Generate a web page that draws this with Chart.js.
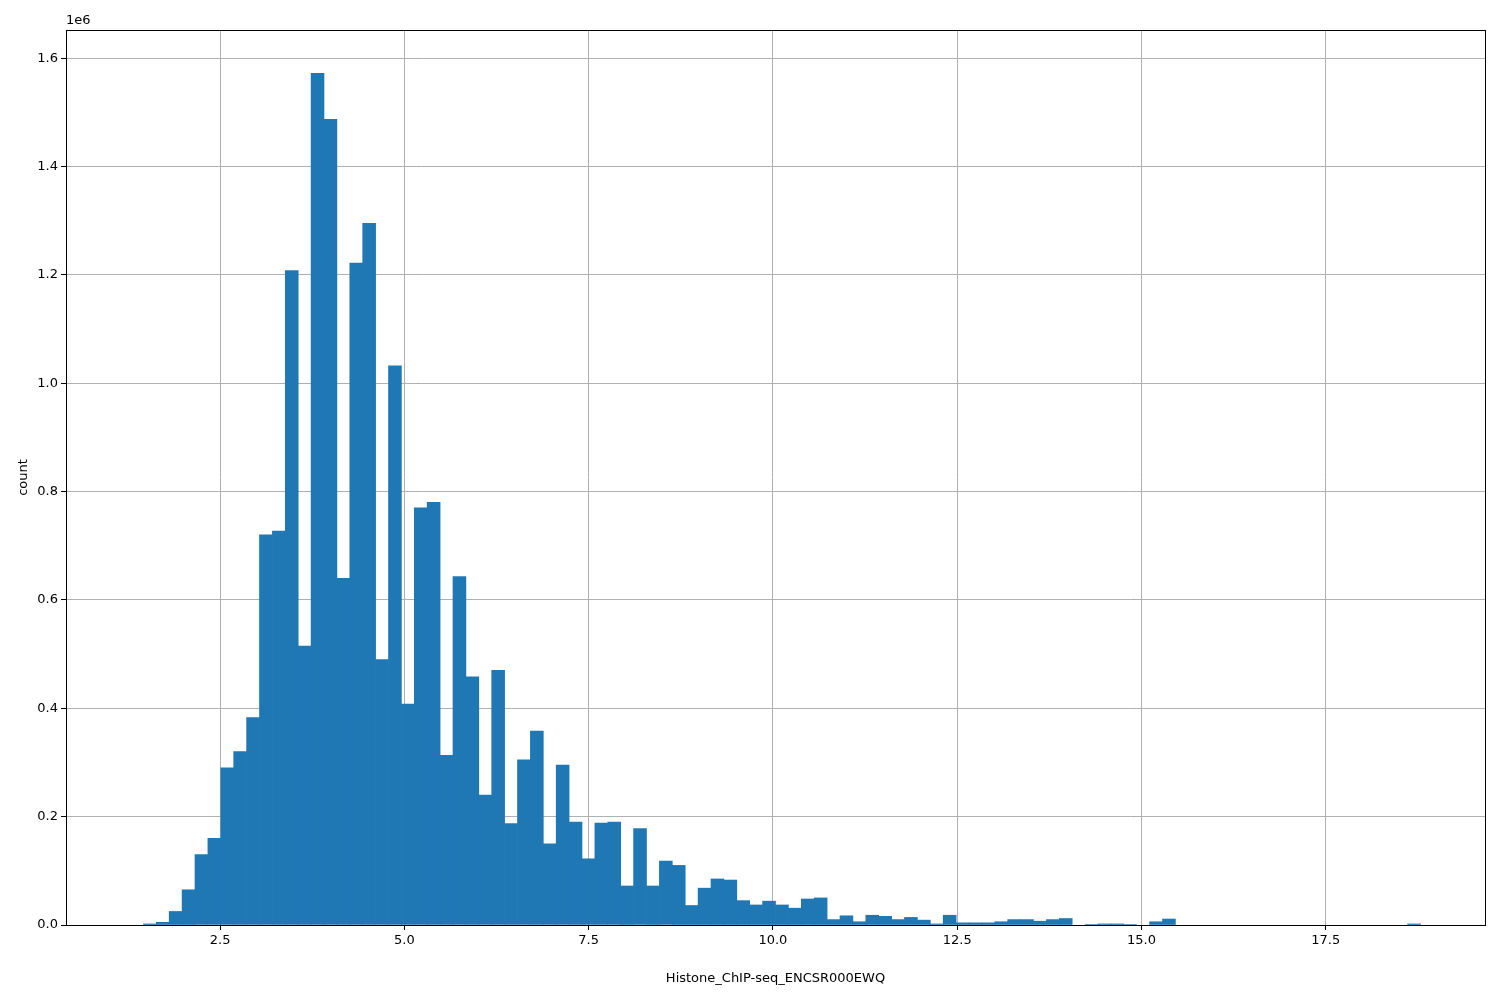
<!DOCTYPE html>
<html>
<head>
<meta charset="utf-8">
<script src="https://cdn.jsdelivr.net/npm/chart.js@4.4.0/dist/chart.umd.min.js"></script>
<style>
  html, body { margin: 0; padding: 0; background: #fff; }
  #wrap { width: 1500px; height: 1000px; }
</style>
</head>
<body>
<div id="wrap"><canvas id="hist"></canvas></div>
<script>
// --- DATA ---
const binStart = 1.285;
const binWidth = 0.175;
const counts = [
    0, 2000, 5000, 25000, 65000, 130000, 160000, 290000, 320000, 383000,
    720000, 727000, 1208000, 515000, 1572000, 1487000, 640000, 1222000, 1295000, 490000,
    1032000, 408000, 770000, 780000, 313000, 643000, 458000, 240000, 470000, 187000,
    305000, 358000, 150000, 295000, 190000, 122000, 188000, 190000, 72000, 178000,
    72000, 118000, 110000, 36000, 68000, 85000, 83000, 45000, 37000, 44000,
    37000, 31000, 48000, 50000, 10000, 17000, 6000, 18000, 16000, 10000,
    14000, 9000, 2000, 18000, 4000, 4000, 4000, 6000, 10000, 10000,
    7000, 10000, 12000, 0, 1000, 2000, 2000, 1000, 0, 6000,
    11000, 0, 0, 0, 0, 0, 0, 0, 0, 0,
    0, 0, 0, 0, 0, 0, 0, 0, 0, 2000
];
const xTicks = [2.5, 5.0, 7.5, 10.0, 12.5, 15.0, 17.5];
const yTicks = [0, 0.2, 0.4, 0.6, 0.8, 1.0, 1.2, 1.4, 1.6];
const xLabel = 'Histone_ChIP-seq_ENCSR000EWQ';
const yLabel = 'count';

// empty bins are left out (matplotlib draws nothing for them)
const points = counts.map(function(c, i) {
    return { x: binStart + binWidth * (i + 0.5), y: c > 0 ? c / 1e6 : null };
});

const FONT = { family: 'DejaVu Sans', size: 13 };

// frame + offset label
const framePlugin = {
    id: 'frame',
    afterDraw: function(chart) {
        const a = chart.chartArea;
        const ctx = chart.ctx;
        ctx.save();
        ctx.strokeStyle = '#000';
        ctx.lineWidth = 1;
        ctx.strokeRect(a.left + 0.5, a.top + 0.5, a.right - a.left, a.bottom - a.top);
        ctx.fillStyle = '#000';
        ctx.font = '13px "DejaVu Sans"';
        ctx.textBaseline = 'bottom';
        ctx.fillText('1e6', a.left, a.top - 3);
        ctx.restore();
    }
};

new Chart(document.getElementById('hist').getContext('2d'), {
    type: 'bar',
    data: {
        datasets: [{
            data: points,
            backgroundColor: '#1f77b4',
            borderWidth: 0,
            barPercentage: 1.0,
            categoryPercentage: 1.0
        }]
    },
    options: {
        responsive: true,
        maintainAspectRatio: false,
        animation: false,
        layout: { padding: { top: 30, right: 15, left: 12, bottom: 10 } },
        plugins: { legend: { display: false }, tooltip: { enabled: false } },
        scales: {
            x: {
                type: 'linear',
                min: 0.41,
                max: 19.66,
                offset: false,
                afterBuildTicks: function(axis) { axis.ticks = xTicks.map(function(v) { return { value: v }; }); },
                afterFit: function(axis) { axis.height = 65; },
                ticks: { color: '#000', font: FONT, maxRotation: 0, callback: function(v) { return v.toFixed(1); } },
                grid: { offset: false, color: '#b0b0b0', tickColor: '#000', tickLength: 5 },
                border: { color: '#000' },
                title: { display: true, text: xLabel, color: '#000', font: FONT, padding: { top: 20 } }
            },
            y: {
                min: 0,
                max: 1.652,
                afterBuildTicks: function(axis) { axis.ticks = yTicks.map(function(v) { return { value: v }; }); },
                afterFit: function(axis) { axis.width = 54; },
                ticks: { color: '#000', font: FONT, callback: function(v) { return v.toFixed(1); } },
                grid: { color: '#b0b0b0', tickColor: '#000', tickLength: 5 },
                border: { color: '#000' },
                title: { display: true, text: yLabel, color: '#000', font: FONT, padding: { bottom: 4 } }
            }
        }
    },
    plugins: [framePlugin]
});
</script>
</body>
</html>
